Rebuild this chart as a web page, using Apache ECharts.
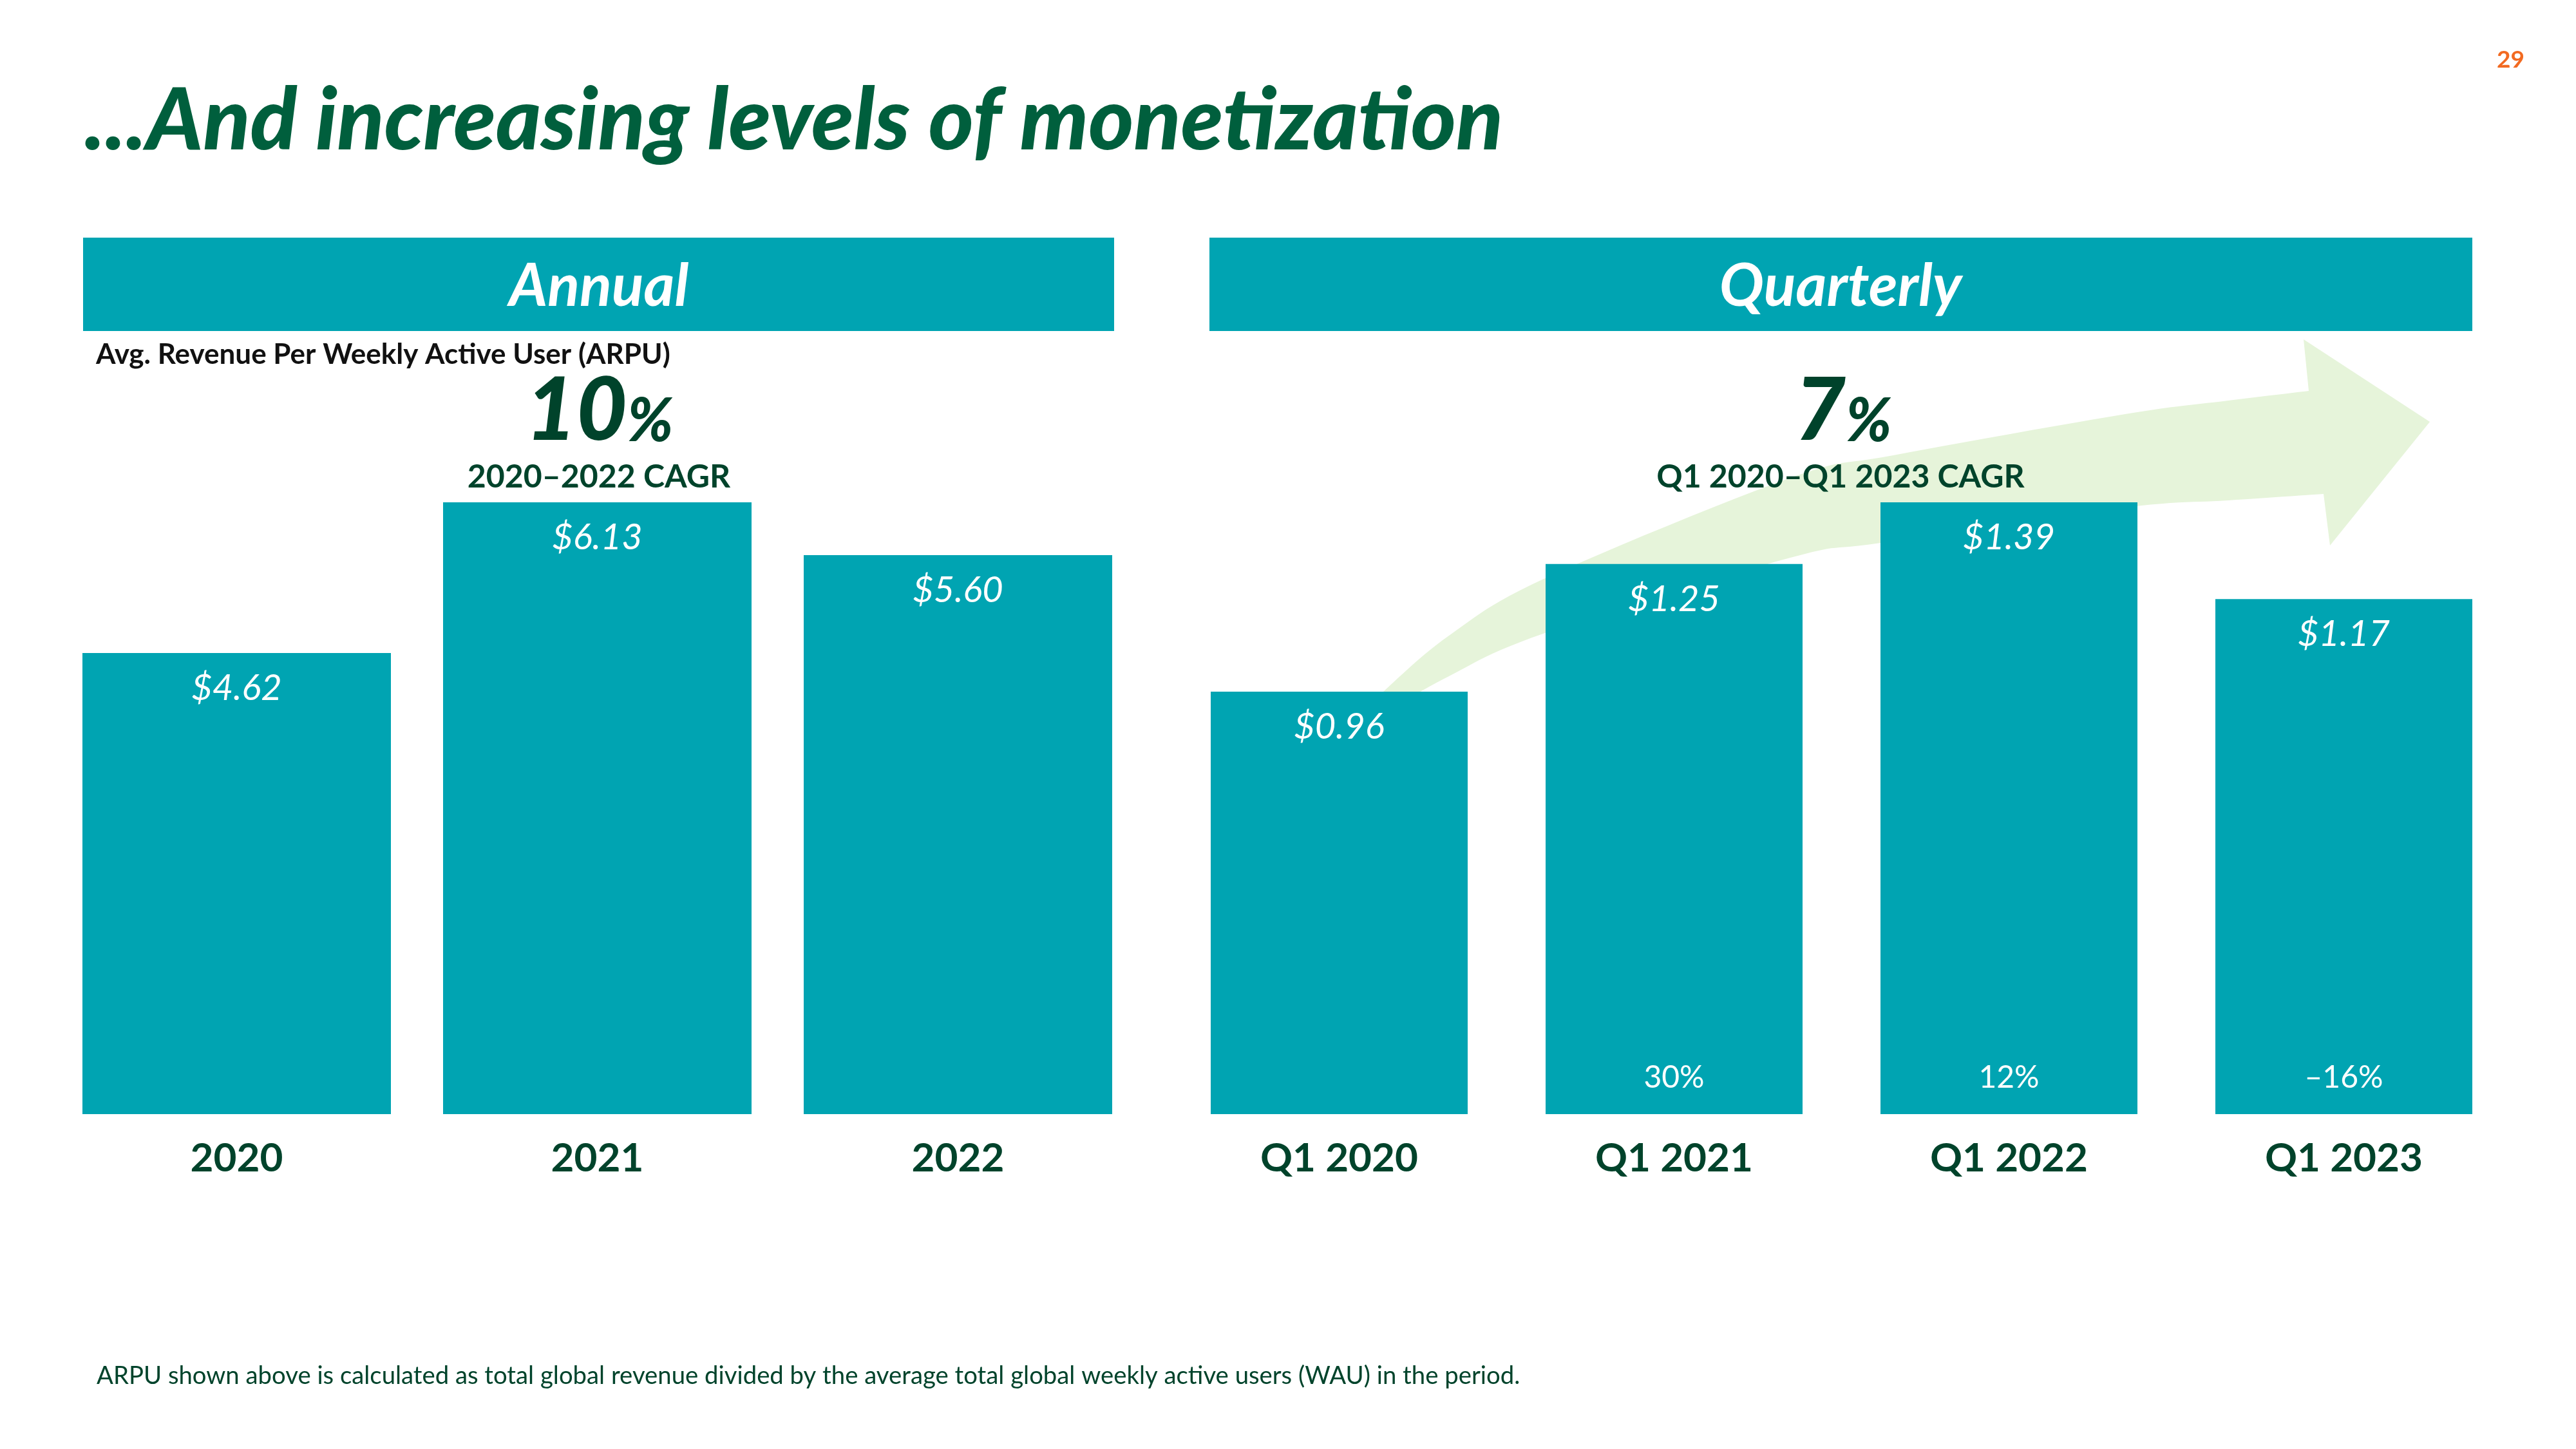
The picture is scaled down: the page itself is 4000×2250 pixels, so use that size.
<!DOCTYPE html>
<html>
<head>
<meta charset="utf-8">
<style>
  html, body { margin: 0; padding: 0; background: #ffffff; }
  #chart { width: 4000px; height: 2250px; }
</style>
<script src="https://cdn.jsdelivr.net/npm/echarts@6/dist/echarts.min.js"></script>
</head>
<body>
<div id="chart"></div>
<script>
// ---- Data ----
const annualCategories = ['2020', '2021', '2022'];
const annualARPU = [4.62, 6.13, 5.60];
const quarterCategories = ['Q1 2020', 'Q1 2021', 'Q1 2022', 'Q1 2023'];
const quarterARPU = [0.96, 1.25, 1.39, 1.17];
const quarterYoY = ['', '30%', '12%', '\u201316%'];

const TEAL = '#00A4B2';
const TITLE_GREEN = '#005F3D';
const DARK_GREEN = '#00432B';
const ARROW_GREEN = '#E6F4DA';
const FONT = 'Lato';

// ---- Decorative arrow (background) ----
function catmull(pts, steps) {
  const out = [];
  for (let i = 0; i < pts.length - 1; i++) {
    const p0 = pts[Math.max(i - 1, 0)], p1 = pts[i], p2 = pts[i + 1], p3 = pts[Math.min(i + 2, pts.length - 1)];
    for (let s = 0; s < steps; s++) {
      const t = s / steps, t2 = t * t, t3 = t2 * t;
      const f = (a, b, c, d) => 0.5 * ((2 * b) + (-a + c) * t + (2 * a - 5 * b + 4 * c - d) * t2 + (-a + 3 * b - 3 * c + d) * t3);
      out.push([f(p0[0], p1[0], p2[0], p3[0]), f(p0[1], p1[1], p2[1], p3[1])]);
    }
  }
  out.push(pts[pts.length - 1]);
  return out;
}
const arrowUpper = [[2060,1160],[2148,1074],[2250,987],[2399,898],[2780,742],[2940,707],[3300,643],[3460,622],[3585,607]];
const arrowHead = [[3577,527],[3773,655],[3618,847]];
const arrowLower = [[3608,767],[3460,777],[3300,788],[2920,843],[2780,866],[2399,983],[2250,1050],[2150,1110],[2110,1160]];
const arrowPoly = catmull(arrowUpper, 12).concat(arrowHead).concat(catmull(arrowLower, 12));

const chart = echarts.init(document.getElementById('chart'), null, { renderer: 'canvas' });

const valueLabel = {
  show: true,
  position: 'insideTop',
  distance: 27,
  color: '#ffffff',
  fontFamily: FONT,
  fontStyle: 'italic',
  fontSize: 56,
  formatter: p => '$' + p.value.toFixed(2)
};

const axisLabelStyle = {
  color: DARK_GREEN,
  fontFamily: FONT,
  fontWeight: 'bold',
  fontSize: 62,
  margin: 38
};

const option = {
  backgroundColor: '#ffffff',
  animation: false,
  grid: [
    { left: 87.5, width: 1680, top: 1730 - 7 * 154.98, bottom: 520 },
    { left: 1819.5, width: 2080, top: 1730 - 1.5 * 683.45, bottom: 520 }
  ],
  xAxis: [
    { type: 'category', gridIndex: 0, data: annualCategories,
      axisLine: { show: false }, axisTick: { show: false }, axisLabel: axisLabelStyle },
    { type: 'category', gridIndex: 1, data: quarterCategories,
      axisLine: { show: false }, axisTick: { show: false }, axisLabel: axisLabelStyle }
  ],
  yAxis: [
    { type: 'value', gridIndex: 0, min: 0, max: 7, show: false, splitLine: { show: false } },
    { type: 'value', gridIndex: 1, min: 0, max: 1.5, show: false, splitLine: { show: false } }
  ],
  series: [
    { type: 'bar', xAxisIndex: 0, yAxisIndex: 0, data: annualARPU, barWidth: 479,
      itemStyle: { color: TEAL }, label: valueLabel, z: 5 },
    { type: 'bar', xAxisIndex: 1, yAxisIndex: 1, data: quarterARPU, barWidth: 399,
      itemStyle: { color: TEAL }, label: valueLabel, z: 5 },
    { type: 'bar', xAxisIndex: 1, yAxisIndex: 1, data: quarterARPU, barWidth: 399, barGap: '-100%',
      silent: true, itemStyle: { color: 'rgba(0,0,0,0)' }, z: 6,
      label: {
        show: true, position: 'insideBottom', distance: 32, color: '#ffffff',
        fontFamily: FONT, fontSize: 48,
        formatter: p => quarterYoY[p.dataIndex]
      } }
  ],
  graphic: [
    { type: 'polygon', z: 0, silent: true, shape: { points: arrowPoly }, style: { fill: ARROW_GREEN } },
    { type: 'rect', z: 1, shape: { x: 129, y: 369, width: 1601, height: 145 }, style: { fill: TEAL } },
    { type: 'rect', z: 1, shape: { x: 1878, y: 369, width: 1961, height: 145 }, style: { fill: TEAL } },
    { type: 'text', z: 100, x: 131, y: 189, style: { text: '...And increasing levels of monetization', fill: TITLE_GREEN,
      font: 'italic 900 134px Lato', textAlign: 'left', textVerticalAlign: 'middle' } },
    { type: 'text', z: 100, x: 3920, y: 93, style: { text: '29', fill: '#F26A21',
      font: 'bold 37px Lato', textAlign: 'right', textVerticalAlign: 'middle' } },
    { type: 'text', z: 100, x: 930, y: 445, style: { text: 'Annual', fill: '#ffffff',
      font: 'italic bold 92px Lato', textAlign: 'center', textVerticalAlign: 'middle' } },
    { type: 'text', z: 100, x: 2858, y: 445, style: { text: 'Quarterly', fill: '#ffffff',
      font: 'italic bold 92px Lato', textAlign: 'center', textVerticalAlign: 'middle' } },
    { type: 'text', z: 100, x: 149, y: 551, style: { text: 'Avg. Revenue Per Weekly Active User (ARPU)', fill: '#111111',
      font: 'bold 44px Lato', textAlign: 'left', textVerticalAlign: 'middle' } },
    { type: 'text', z: 100, x: 974, y: 639, style: { text: '10', fill: DARK_GREEN,
      font: 'italic 900 136px Lato', textAlign: 'right', textVerticalAlign: 'middle' } },
    { type: 'text', z: 100, x: 974, y: 655, style: { text: '%', fill: DARK_GREEN,
      font: 'italic 900 93px Lato', textAlign: 'left', textVerticalAlign: 'middle' } },
    { type: 'text', z: 100, x: 2866, y: 639, style: { text: '7', fill: DARK_GREEN,
      font: 'italic 900 136px Lato', textAlign: 'right', textVerticalAlign: 'middle' } },
    { type: 'text', z: 100, x: 2866, y: 655, style: { text: '%', fill: DARK_GREEN,
      font: 'italic 900 93px Lato', textAlign: 'left', textVerticalAlign: 'middle' } },
    { type: 'text', z: 100, x: 930, y: 741, style: { text: '2020\u20132022 CAGR', fill: DARK_GREEN,
      font: 'bold 50px Lato', textAlign: 'center', textVerticalAlign: 'middle' } },
    { type: 'text', z: 100, x: 2858, y: 741, style: { text: 'Q1 2020\u2013Q1 2023 CAGR', fill: DARK_GREEN,
      font: 'bold 50px Lato', textAlign: 'center', textVerticalAlign: 'middle' } },
    { type: 'text', z: 100, x: 150, y: 2137, style: { text: 'ARPU shown above is calculated as total global revenue divided by the average total global weekly active users (WAU) in the period.', fill: DARK_GREEN,
      font: '38.3px Lato', textAlign: 'left', textVerticalAlign: 'middle' } }
  ]
};

chart.setOption(option);
</script>
</body>
</html>
